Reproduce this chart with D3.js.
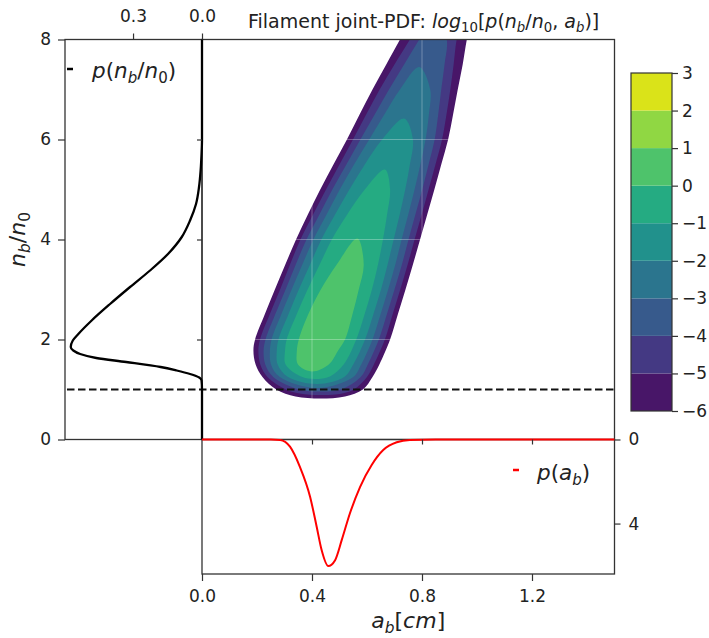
<!DOCTYPE html>
<html>
<head>
<meta charset="utf-8">
<script src="https://cdn.jsdelivr.net/npm/d3@7"></script>
<style>
    body { margin: 0; background: #fff; }
    svg { font-family: "DejaVu Sans", sans-serif; }
</style>
</head>
<body>
<div id="chart"></div>
<script>
    //Tick values
    var nbTicks = [0, 2, 4, 6, 8];
    var abTicks = [0, 0.4, 0.8, 1.2];
    var pnTicks = [0.3, 0.0];
    var paTicks = [0, 4];
    var cbLevels = [-6, -5, -4, -3, -2, -1, 0, 1, 2, 3];
    var thresholdN = 1.0;

    //Marginal p(nb/n0)
    var nProfile = [0, 1.0, 1.18, 1.24, 1.31, 1.38, 1.45, 1.55, 1.63, 1.71, 1.78, 1.85, 1.98, 2.11, 2.38, 2.71, 3.05, 3.38, 3.71, 4.05, 4.38, 4.71, 5.05, 5.38, 5.71, 6.0, 8.0];
    var pnValues = [0, 0, 0.002, 0.012, 0.052, 0.11, 0.18, 0.33, 0.46, 0.53, 0.56, 0.571, 0.562, 0.538, 0.48, 0.40, 0.313, 0.226, 0.148, 0.088, 0.052, 0.026, 0.013, 0.006, 0.002, 0, 0];

    //Marginal p(ab)
    var aProfile = [0, 0.25, 0.284, 0.32, 0.356, 0.393, 0.417, 0.435, 0.459, 0.484, 0.508, 0.538, 0.575, 0.617, 0.659, 0.708, 0.756, 0.85, 1.5];
    var paValues = [0, 0, 0.02, 0.34, 1.3, 2.72, 4.15, 5.26, 6.02, 5.74, 4.79, 3.51, 2.25, 1.21, 0.5, 0.13, 0.02, 0, 0];

    //Joint PDF: filled contour outlines [ab, nb/n0] for each level
    var bandLevels = [-6, -5, -4, -3, -2, -1, 0];
    var bandOutlines = [
        [[0.43,0.82],[0.34,0.86],[0.27,1.0],[0.22,1.25],[0.195,1.5],[0.187,1.78],[0.193,2.0],[0.228,2.5],[0.265,3.0],[0.303,3.5],[0.342,4.0],[0.385,4.5],[0.43,5.0],[0.478,5.5],[0.527,6.0],[0.573,6.5],[0.62,7.0],[0.67,7.5],[0.72,8.0],[0.79,8.7],
         [0.99,8.7],[0.963,8.0],[0.948,7.5],[0.93,7.0],[0.913,6.5],[0.895,6.0],[0.87,5.5],[0.845,5.0],[0.819,4.5],[0.793,4.0],[0.767,3.5],[0.74,3.0],[0.712,2.5],[0.684,2.0],[0.645,1.5],[0.62,1.25],[0.585,1.0],[0.52,0.86]],
        [[0.43,0.89],[0.355,0.92],[0.305,1.0],[0.238,1.25],[0.212,1.5],[0.205,1.78],[0.211,2.0],[0.246,2.5],[0.284,3.0],[0.320,3.5],[0.358,4.0],[0.404,4.5],[0.451,5.0],[0.50,5.5],[0.549,6.0],[0.597,6.5],[0.646,7.0],[0.70,7.5],[0.756,8.0],[0.83,8.7],
         [0.955,8.7],[0.926,8.0],[0.915,7.5],[0.903,7.0],[0.889,6.5],[0.873,6.0],[0.849,5.5],[0.824,5.0],[0.799,4.5],[0.773,4.0],[0.748,3.5],[0.721,3.0],[0.693,2.5],[0.665,2.0],[0.625,1.5],[0.600,1.25],[0.552,1.0],[0.50,0.91]],
        [[0.43,0.96],[0.353,1.0],[0.259,1.25],[0.230,1.5],[0.224,1.78],[0.231,2.0],[0.266,2.5],[0.304,3.0],[0.341,3.5],[0.380,4.0],[0.427,4.5],[0.474,5.0],[0.525,5.5],[0.576,6.0],[0.628,6.5],[0.680,7.0],[0.735,7.5],[0.79,8.0],[0.85,8.5],
         [0.89,8.0],[0.882,7.5],[0.870,7.0],[0.859,6.5],[0.846,6.0],[0.824,5.5],[0.801,5.0],[0.776,4.5],[0.751,4.0],[0.727,3.5],[0.700,3.0],[0.672,2.5],[0.643,2.0],[0.603,1.5],[0.577,1.25],[0.504,1.0]],
        [[0.42,1.03],[0.283,1.25],[0.251,1.5],[0.247,1.78],[0.253,2.0],[0.288,2.5],[0.326,3.0],[0.365,3.5],[0.405,4.0],[0.453,4.5],[0.501,5.0],[0.553,5.5],[0.608,6.0],[0.663,6.5],[0.72,7.0],[0.79,7.45],
         [0.83,7.0],[0.825,6.5],[0.813,6.0],[0.794,5.5],[0.773,5.0],[0.750,4.5],[0.726,4.0],[0.703,3.5],[0.677,3.0],[0.649,2.5],[0.620,2.0],[0.579,1.5],[0.550,1.25]],
        [[0.42,1.11],[0.313,1.25],[0.275,1.5],[0.272,1.78],[0.278,2.0],[0.314,2.5],[0.352,3.0],[0.393,3.5],[0.434,4.0],[0.484,4.5],[0.536,5.0],[0.592,5.5],[0.655,6.0],[0.735,6.42],
         [0.767,6.0],[0.756,5.5],[0.739,5.0],[0.719,4.5],[0.697,4.0],[0.675,3.5],[0.651,3.0],[0.623,2.5],[0.593,2.0],[0.550,1.5],[0.517,1.25]],
        [[0.41,1.21],[0.36,1.26],[0.304,1.5],[0.302,1.78],[0.308,2.0],[0.344,2.5],[0.384,3.0],[0.428,3.5],[0.472,4.0],[0.528,4.5],[0.592,5.0],[0.665,5.4],
         [0.684,5.0],[0.673,4.5],[0.658,4.0],[0.640,3.5],[0.618,3.0],[0.591,2.5],[0.561,2.0],[0.515,1.5],[0.465,1.26]],
        [[0.40,1.36],[0.349,1.5],[0.345,1.78],[0.352,2.0],[0.386,2.5],[0.432,3.0],[0.490,3.5],[0.565,4.02],
         [0.588,3.5],[0.570,3.0],[0.547,2.5],[0.520,2.0],[0.495,1.78],[0.461,1.5]]
    ];

    //Layout
    var mainLeft = 202, mainRight = 614.5, mainTop = 39.5, mainBottom = 439.5;
    var sideLeft = 65, lowBottom = 574;
    var cbLeft = 631, cbRight = 672, cbTop = 73, cbBottom = 411;
    var spineColour = "#333";
    var textColour = "#222";
    var tickFont = 17;

    var svg = d3.select("#chart").append("svg")
        .attr("width", 709)
        .attr("height", 638);

    var xA = d3.scaleLinear().domain([0, 1.5]).range([mainLeft, mainRight]);
    var yN = d3.scaleLinear().domain([0, 8]).range([mainBottom, mainTop]);
    var xP = d3.scaleLinear().domain([0, 0.596]).range([mainLeft, sideLeft]);
    var yP = d3.scaleLinear().domain([0, 6.4]).range([mainBottom, lowBottom]);
    var yC = d3.scaleLinear().domain([-6, 3]).range([cbBottom, cbTop]);

    function bandColour(level) {
        return d3.interpolateViridis((level + 6 + 0.5) / 9);
    }

    //Write mathtext-like labels: parts are [text, style] with style r/i plus s for subscript
    function mathText(sel, parts, size) {
        var shift = 0;
        parts.forEach(function (p) {
            var ts = sel.append("tspan").text(p[0]);
            var target = 0;
            if (p[1].indexOf("i") >= 0) ts.attr("font-style", "italic");
            if (p[1].indexOf("s") >= 0) {
                ts.attr("font-size", size * 0.7);
                target = size * 0.22;
            }
            if (target != shift) ts.attr("dy", target - shift);
            shift = target;
        });
    }

    //Contour bands
    svg.append("defs").append("clipPath").attr("id", "mainClip")
        .append("rect")
        .attr("x", mainLeft).attr("y", mainTop)
        .attr("width", mainRight - mainLeft).attr("height", mainBottom - mainTop);

    var bandLine = d3.line()
        .x(function (d) { return xA(d[0]); })
        .y(function (d) { return yN(d[1]); })
        .curve(d3.curveCatmullRomClosed.alpha(0.5));

    var contourG = svg.append("g").attr("clip-path", "url(#mainClip)");
    contourG.selectAll("path.band")
        .data(bandOutlines)
        .join("path")
        .attr("class", "band")
        .attr("d", bandLine)
        .attr("fill", function (d, i) { return bandColour(bandLevels[i]); });

    //Faint grid over the contours
    contourG.selectAll("line.vgrid")
        .data([0.4, 0.8, 1.2])
        .join("line")
        .attr("x1", function (d) { return xA(d); }).attr("x2", function (d) { return xA(d); })
        .attr("y1", mainTop).attr("y2", mainBottom)
        .attr("stroke", "#fff").attr("stroke-opacity", 0.3).attr("stroke-width", 1);
    contourG.selectAll("line.hgrid")
        .data([2, 4, 6])
        .join("line")
        .attr("y1", function (d) { return yN(d); }).attr("y2", function (d) { return yN(d); })
        .attr("x1", mainLeft).attr("x2", mainRight)
        .attr("stroke", "#fff").attr("stroke-opacity", 0.3).attr("stroke-width", 1);

    //Threshold line
    svg.append("line")
        .attr("x1", sideLeft + 2).attr("x2", mainRight)
        .attr("y1", yN(thresholdN)).attr("y2", yN(thresholdN))
        .attr("stroke", "#111").attr("stroke-width", 2.2)
        .attr("stroke-dasharray", "7.5,3.5");

    //Spines
    function frame(x0, y0, x1, y1) {
        svg.append("rect")
            .attr("x", x0).attr("y", y0)
            .attr("width", x1 - x0).attr("height", y1 - y0)
            .attr("fill", "none").attr("stroke", spineColour).attr("stroke-width", 1.3);
    }
    frame(sideLeft, mainTop, mainLeft, mainBottom);
    frame(mainLeft, mainTop, mainRight, mainBottom);
    frame(mainLeft, mainBottom, mainRight, lowBottom);

    //Marginal curves
    var pnLine = d3.line()
        .x(function (d, i) { return xP(pnValues[i]); })
        .y(function (d) { return yN(d); })
        .curve(d3.curveMonotoneY);
    svg.append("path")
        .attr("d", pnLine(nProfile))
        .attr("fill", "none").attr("stroke", "#000").attr("stroke-width", 2.3);

    var paLine = d3.line()
        .x(function (d) { return xA(d); })
        .y(function (d, i) { return yP(paValues[i]); })
        .curve(d3.curveMonotoneX);
    svg.append("path")
        .attr("d", paLine(aProfile))
        .attr("fill", "none").attr("stroke", "#ff0000").attr("stroke-width", 2);

    //Axes
    function styleAxis(g, size) {
        g.attr("font-family", "DejaVu Sans").attr("font-size", size);
        g.select(".domain").remove();
        g.selectAll(".tick line").attr("stroke", spineColour).attr("stroke-width", 1.2);
        g.selectAll(".tick text").attr("fill", textColour);
    }

    svg.append("g")
        .attr("transform", "translate(" + sideLeft + ",0)")
        .call(d3.axisLeft(yN).tickValues(nbTicks).tickSize(7).tickPadding(7).tickFormat(d3.format("d")))
        .call(styleAxis, tickFont);

    svg.append("g")
        .attr("transform", "translate(0," + mainTop + ")")
        .call(d3.axisTop(xP).tickValues(pnTicks).tickSize(6).tickPadding(12).tickFormat(d3.format(".1f")))
        .call(styleAxis, tickFont);

    svg.append("g")
        .attr("transform", "translate(" + mainLeft + ",0)")
        .call(d3.axisLeft(yN).tickValues([2, 4, 6]).tickSize(5).tickFormat(""))
        .call(styleAxis, tickFont);

    svg.append("g")
        .attr("transform", "translate(0," + mainBottom + ")")
        .call(d3.axisBottom(xA).tickValues([0.4, 0.8, 1.2]).tickSize(5).tickFormat(""))
        .call(styleAxis, tickFont);

    svg.append("g")
        .attr("transform", "translate(0," + lowBottom + ")")
        .call(d3.axisBottom(xA).tickValues(abTicks).tickSize(7).tickPadding(9).tickFormat(d3.format(".1f")))
        .call(styleAxis, tickFont);

    svg.append("g")
        .attr("transform", "translate(" + mainRight + ",0)")
        .call(d3.axisRight(yP).tickValues(paTicks).tickSize(6).tickPadding(8).tickFormat(d3.format("d")))
        .call(styleAxis, tickFont);

    //Colour bar
    var cbBands = cbLevels.slice(0, -1);
    svg.append("g").selectAll("rect")
        .data(cbBands)
        .join("rect")
        .attr("x", cbLeft)
        .attr("width", cbRight - cbLeft)
        .attr("y", function (d) { return yC(d + 1); })
        .attr("height", function (d) { return yC(d) - yC(d + 1); })
        .attr("fill", bandColour);
    svg.append("rect")
        .attr("x", cbLeft).attr("y", cbTop)
        .attr("width", cbRight - cbLeft).attr("height", cbBottom - cbTop)
        .attr("fill", "none").attr("stroke", spineColour).attr("stroke-width", 1.2);
    svg.append("g")
        .attr("transform", "translate(" + cbRight + ",0)")
        .call(d3.axisRight(yC).tickValues(cbLevels).tickSize(6).tickPadding(4)
            .tickFormat(function (d) { return d < 0 ? "\u2212" + Math.abs(d) : String(d); }))
        .call(styleAxis, tickFont);

    //Title and axis labels
    var title = svg.append("text")
        .attr("x", 248).attr("y", 28)
        .attr("font-size", 19).attr("fill", textColour);
    mathText(title, [["Filament joint-PDF: ", "r"], ["log", "i"], ["10", "rs"], ["[", "r"], ["p", "i"], ["(", "r"],
        ["n", "i"], ["b", "is"], ["/", "r"], ["n", "i"], ["0", "rs"], [",", "r"], [" a", "i"], ["b", "is"], [")]", "r"]], 19);

    var xLabel = svg.append("text")
        .attr("x", (mainLeft + mainRight) / 2).attr("y", 628)
        .attr("text-anchor", "middle")
        .attr("font-size", 22).attr("fill", textColour);
    mathText(xLabel, [["a", "i"], ["b", "is"], ["[", "r"], ["cm", "i"], ["]", "r"]], 22);

    var yLabel = svg.append("text")
        .attr("transform", "translate(25," + (mainTop + mainBottom) / 2 + ") rotate(-90)")
        .attr("text-anchor", "middle")
        .attr("font-size", 22).attr("fill", textColour);
    mathText(yLabel, [["n", "i"], ["b", "is"], ["/", "r"], ["n", "i"], ["0", "rs"]], 22);

    //Legends
    svg.append("line")
        .attr("x1", 67).attr("x2", 73).attr("y1", 69).attr("y2", 69)
        .attr("stroke", "#000").attr("stroke-width", 2.5);
    var leg1 = svg.append("text")
        .attr("x", 92).attr("y", 78)
        .attr("font-size", 21.5).attr("fill", textColour);
    mathText(leg1, [["p", "i"], ["(", "r"], ["n", "i"], ["b", "is"], ["/", "r"], ["n", "i"], ["0", "rs"], [")", "r"]], 21.5);

    svg.append("line")
        .attr("x1", 513).attr("x2", 519).attr("y1", 470).attr("y2", 470)
        .attr("stroke", "#ff0000").attr("stroke-width", 2.5);
    var leg2 = svg.append("text")
        .attr("x", 537).attr("y", 480)
        .attr("font-size", 21.5).attr("fill", textColour);
    mathText(leg2, [["p", "i"], ["(", "r"], ["a", "i"], ["b", "is"], [")", "r"]], 21.5);
</script>
</body>
</html>
